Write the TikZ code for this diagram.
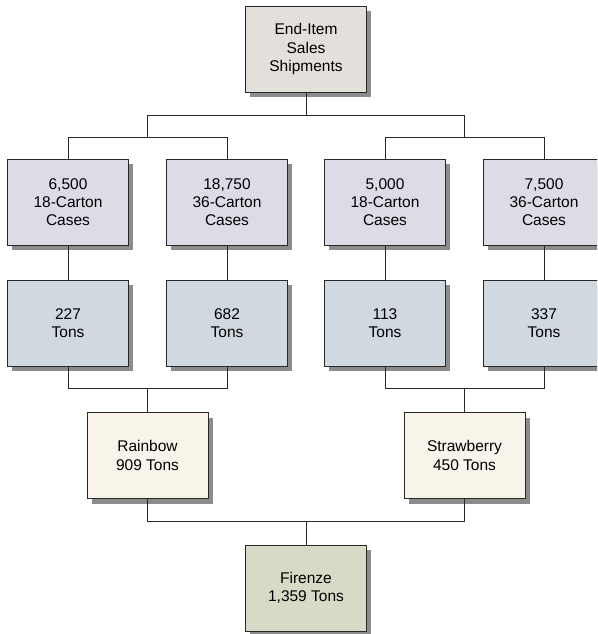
\documentclass[tikz,border=0pt]{standalone}
\usepackage{fontspec}
\setmainfont{Liberation Sans}
\usepackage{tikz}
\usetikzlibrary{shadows}
\definecolor{boxline}{RGB}{40, 40, 40}
\definecolor{boxshadow}{RGB}{140, 140, 140}
\definecolor{shipfill}{RGB}{227, 223, 218}
\definecolor{casefill}{RGB}{222, 219, 230}
\definecolor{tonfill}{RGB}{208, 216, 224}
\definecolor{brandfill}{RGB}{248, 244, 234}
\definecolor{plantfill}{RGB}{216, 218, 200}

\tikzset{
  unitbox/.style={draw=boxline, line width=0.9pt, minimum width=121pt, minimum height=86pt,
    inner sep=0pt, align=center, font=\fontsize{15.5}{18.3}\selectfont,
    general shadow={fill=boxshadow, shadow xshift=4.5pt, shadow yshift=-5pt}},
  link/.style={draw=boxline, line width=0.8pt}
}

\begin{document}
\begin{tikzpicture}[x=1pt, y=-1pt]
\clip (0,0) rectangle (597,634);
% Sales shipments at top
\node[unitbox, fill=shipfill] (ship) at (306,49) {End-Item\\Sales\\Shipments};
% Cartons per pack size
\node[unitbox, fill=casefill] (case1) at (68,202) {6,500\\18-Carton\\Cases};
\node[unitbox, fill=casefill] (case2) at (227,202) {18,750\\36-Carton\\Cases};
\node[unitbox, fill=casefill] (case3) at (385,202) {5,000\\18-Carton\\Cases};
\node[unitbox, fill=casefill] (case4) at (544,202) {7,500\\36-Carton\\Cases};
% Tons per pack size
\node[unitbox, fill=tonfill] (ton1) at (68,323) {227\\Tons};
\node[unitbox, fill=tonfill] (ton2) at (227,323) {682\\Tons};
\node[unitbox, fill=tonfill] (ton3) at (385,323) {113\\Tons};
\node[unitbox, fill=tonfill] (ton4) at (544,323) {337\\Tons};
% Brands and plant
\node[unitbox, fill=brandfill] (rain) at (147.5,455.5) {Rainbow\\909 Tons};
\node[unitbox, fill=brandfill] (straw) at (464.5,455.5) {Strawberry\\450 Tons};
\node[unitbox, fill=plantfill] (fir) at (306,588) {Firenze\\1,359 Tons};
% Branch points
\coordinate (split) at (306,115);
\coordinate (lsplit) at (147.5,137);
\coordinate (rsplit) at (464.5,137);
\coordinate (ljoin) at (147.5,388);
\coordinate (rjoin) at (464.5,388);
\coordinate (fjoin) at (306,521);
% Connectors
\draw[link] (ship.south) -- (split);
\draw[link] (split) -| (lsplit);
\draw[link] (split) -| (rsplit);
\draw[link] (lsplit) -| (case1.north);
\draw[link] (lsplit) -| (case2.north);
\draw[link] (rsplit) -| (case3.north);
\draw[link] (rsplit) -| (case4.north);
\draw[link] (case1) -- (ton1);
\draw[link] (case2) -- (ton2);
\draw[link] (case3) -- (ton3);
\draw[link] (case4) -- (ton4);
\draw[link] (ton1.south) |- (ljoin);
\draw[link] (ton2.south) |- (ljoin);
\draw[link] (ton3.south) |- (rjoin);
\draw[link] (ton4.south) |- (rjoin);
\draw[link] (ljoin) -- (rain);
\draw[link] (rjoin) -- (straw);
\draw[link] (rain.south) |- (fjoin);
\draw[link] (straw.south) |- (fjoin);
\draw[link] (fjoin) -- (fir);
\end{tikzpicture}
\end{document}
